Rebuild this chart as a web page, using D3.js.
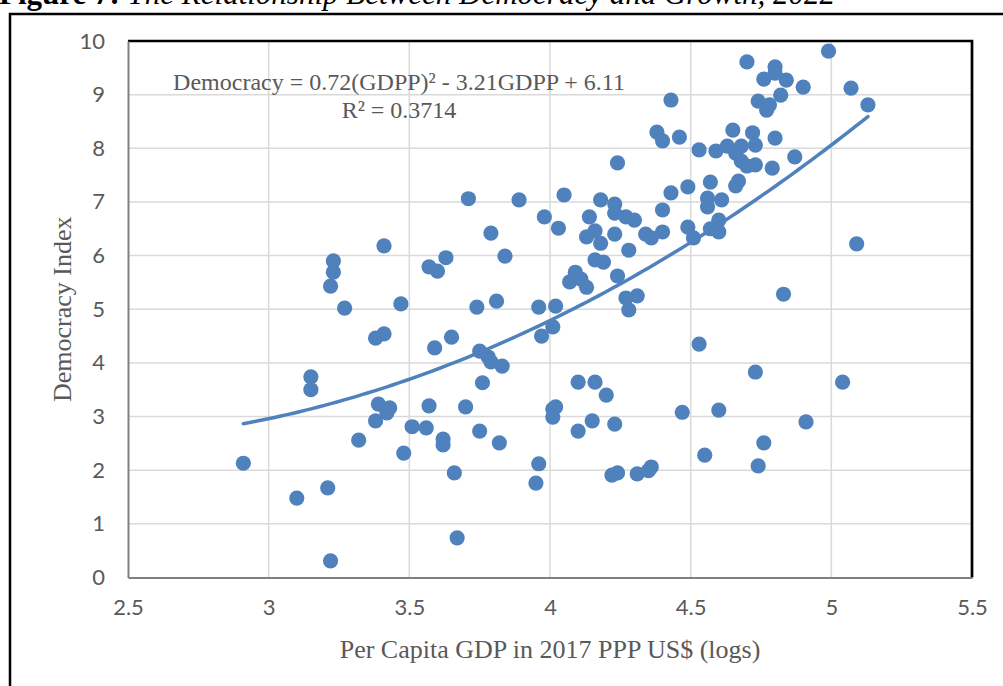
<!DOCTYPE html>
<html>
<head>
<meta charset="utf-8">
<script src="https://cdn.jsdelivr.net/npm/d3@7"></script>
<style>
  html, body { margin: 0; padding: 0; background: #ffffff; }
  svg { display: block; }
</style>
</head>
<body>
<svg id="chart" width="1003" height="686"></svg>
<script>
// ---------------- DATA ----------------
const titleBold = "Figure 7:";
const titleItalic = " The Relationship Between Democracy and Growth, 2022";
const xTitle = "Per Capita GDP in 2017 PPP US$ (logs)";
const yTitle = "Democracy Index";
const equationLine1 = "Democracy = 0.72(GDPP)\u00B2 - 3.21GDPP + 6.11";
const equationLine2 = "R\u00B2 = 0.3714";

const xTickValues = [2.5, 3, 3.5, 4, 4.5, 5, 5.5];
const xTickLabels = ["2.5", "3", "3.5", "4", "4.5", "5", "5.5"];
const yTickValues = [0, 1, 2, 3, 4, 5, 6, 7, 8, 9, 10];
const yTickLabels = ["0", "1", "2", "3", "4", "5", "6", "7", "8", "9", "10"];

// quadratic trend coefficients (a*x^2 + b*x + c), as printed on the chart
const trendCoefficients = [0.72, -3.21, 6.11];

// log per-capita GDP (x) and democracy index (y)
const gdp = [
  2.91, 3.10, 3.21, 3.22, 3.15, 3.15, 3.23, 3.23, 3.22, 3.27,
  3.41, 3.47, 3.38, 3.41, 3.39, 3.43, 3.38, 3.42, 3.32, 3.48,
  3.51, 3.57, 3.70, 3.56, 3.62, 3.62, 3.66, 3.67, 3.57, 3.60,
  3.63, 3.59, 3.65, 3.71, 3.89, 4.05, 4.24, 4.18, 4.23, 4.14,
  4.23, 4.27, 4.30, 4.43, 4.49, 4.40, 4.49, 4.40, 4.34, 4.36,
  3.98, 4.03, 3.79, 4.16, 4.13, 4.18, 4.23, 4.28, 3.84, 4.16,
  4.19, 4.09, 4.07, 4.11, 4.13, 4.24, 4.27, 4.31, 4.28, 3.74,
  3.81, 3.96, 4.02, 4.01, 3.97, 3.75, 3.78, 3.79, 3.83, 3.76,
  3.75, 3.82, 4.01, 4.01, 4.02, 3.96, 3.95, 4.10, 4.16, 4.20,
  4.15, 4.23, 4.10, 4.22, 4.24, 4.31, 4.35, 4.36, 4.47, 4.99,
  4.70, 4.80, 4.80, 4.76, 4.84, 4.90, 5.07, 4.82, 4.74, 4.78,
  4.77, 5.13, 4.43, 4.38, 4.40, 4.46, 4.65, 4.72, 4.80, 4.53,
  4.59, 4.63, 4.68, 4.73, 4.66, 4.68, 4.70, 4.73, 4.79, 4.87,
  4.57, 4.67, 4.66, 4.56, 4.61, 4.56, 4.51, 4.60, 4.57, 4.60,
  5.09, 4.83, 4.53, 4.73, 5.04, 4.60, 4.91, 4.76, 4.55, 4.74
];
const democracy = [
  2.13, 1.48, 1.67, 0.31, 3.74, 3.50, 5.90, 5.69, 5.43, 5.02,
  6.18, 5.10, 4.46, 4.54, 3.23, 3.16, 2.92, 3.07, 2.56, 2.32,
  2.81, 3.20, 3.18, 2.79, 2.58, 2.47, 1.95, 0.74, 5.79, 5.71,
  5.96, 4.28, 4.48, 7.06, 7.04, 7.13, 7.73, 7.04, 6.96, 6.72,
  6.79, 6.72, 6.66, 7.17, 7.28, 6.85, 6.53, 6.44, 6.40, 6.33,
  6.72, 6.51, 6.42, 6.46, 6.35, 6.23, 6.40, 6.10, 5.99, 5.92,
  5.88, 5.69, 5.51, 5.56, 5.41, 5.62, 5.21, 5.25, 4.99, 5.04,
  5.15, 5.04, 5.06, 4.67, 4.50, 4.22, 4.11, 4.02, 3.94, 3.63,
  2.73, 2.51, 3.14, 2.99, 3.18, 2.12, 1.76, 3.64, 3.64, 3.40,
  2.92, 2.86, 2.73, 1.91, 1.95, 1.93, 1.99, 2.06, 3.08, 9.81,
  9.61, 9.52, 9.40, 9.29, 9.27, 9.14, 9.12, 8.99, 8.88, 8.81,
  8.71, 8.81, 8.90, 8.30, 8.14, 8.21, 8.34, 8.29, 8.19, 7.97,
  7.95, 8.04, 8.04, 8.06, 7.91, 7.76, 7.67, 7.69, 7.63, 7.84,
  7.37, 7.39, 7.30, 7.07, 7.04, 6.91, 6.33, 6.66, 6.50, 6.44,
  6.22, 5.28, 4.35, 3.83, 3.64, 3.12, 2.90, 2.51, 2.28, 2.08
];

// ---------------- DRAWING ----------------
const svg = d3.select("#chart");
const W = 1003, H = 686;
const plot = { left: 128, right: 972, top: 41, bottom: 577.5 };
const blue = "#4f81bd";
const textGray = "#595959";

const x = d3.scaleLinear().domain([2.5, 5.5]).range([plot.left, plot.right]);
const y = d3.scaleLinear().domain([0, 10]).range([plot.bottom, plot.top]);

svg.append("rect").attr("width", W).attr("height", H).attr("fill", "#fff");

// Title (cut off at the top of the picture)
const title = svg.append("text")
  .attr("x", -1).attr("y", 4)
  .attr("font-family", "'Liberation Serif', 'Times New Roman', serif")
  .attr("font-size", 31).attr("fill", "#000");
title.append("tspan").attr("font-weight", "bold").text(titleBold);
title.append("tspan").attr("font-style", "italic").text(titleItalic);

// Outer frame
svg.append("path")
  .attr("d", `M10,${H} L10,14 L${W},14`)
  .attr("fill", "none").attr("stroke", "#000").attr("stroke-width", 2.5);

// Grid lines
svg.append("g")
  .selectAll("line")
  .data(xTickValues.slice(1, -1))
  .join("line")
  .attr("x1", d => x(d)).attr("x2", d => x(d))
  .attr("y1", plot.top).attr("y2", plot.bottom)
  .attr("stroke", "#d9d9d9").attr("stroke-width", 1.5);

svg.append("g")
  .selectAll("line")
  .data(yTickValues.slice(1, -1))
  .join("line")
  .attr("x1", plot.left).attr("x2", plot.right)
  .attr("y1", d => y(d)).attr("y2", d => y(d))
  .attr("stroke", "#d9d9d9").attr("stroke-width", 1.5);

// Plot area border: thick black top and right
svg.append("path")
  .attr("d", `M${plot.left},${plot.top} L${plot.right},${plot.top} L${plot.right},${plot.bottom}`)
  .attr("fill", "none").attr("stroke", "#000").attr("stroke-width", 2.7);

// Axes (using d3 axes, styled Excel-like)
const xAxis = d3.axisBottom(x).tickValues(xTickValues)
  .tickFormat((d, i) => xTickLabels[i]).tickSize(0).tickPadding(22);
const gx = svg.append("g").attr("transform", `translate(0,${plot.bottom})`).call(xAxis);
gx.select(".domain").attr("stroke", "#808080").attr("stroke-width", 2);
gx.selectAll("text")
  .attr("font-family", "Lato, 'Open Sans', sans-serif")
  .attr("font-size", 22).attr("fill", textGray);

const yAxis = d3.axisLeft(y).tickValues(yTickValues)
  .tickFormat((d, i) => yTickLabels[i]).tickSize(0).tickPadding(23);
const gy = svg.append("g").attr("transform", `translate(${plot.left},0)`).call(yAxis);
gy.select(".domain").attr("stroke", "#808080").attr("stroke-width", 2);
gy.selectAll("text")
  .attr("font-family", "Lato, 'Open Sans', sans-serif")
  .attr("font-size", 22).attr("fill", textGray);

// Axis titles
svg.append("text")
  .attr("x", (plot.left + plot.right) / 2).attr("y", 658)
  .attr("text-anchor", "middle")
  .attr("font-family", "'Liberation Serif', 'Times New Roman', serif")
  .attr("font-size", 26).attr("fill", textGray)
  .text(xTitle);

svg.append("text")
  .attr("transform", `translate(71,${(plot.top + plot.bottom) / 2 + 0}) rotate(-90)`)
  .attr("text-anchor", "middle")
  .attr("font-family", "'Liberation Serif', 'Times New Roman', serif")
  .attr("font-size", 26).attr("fill", textGray)
  .text(yTitle);

// Points
svg.append("g")
  .selectAll("circle")
  .data(gdp.map((g, i) => [g, democracy[i]]))
  .join("circle")
  .attr("cx", d => x(d[0])).attr("cy", d => y(d[1]))
  .attr("r", 7.6)
  .attr("fill", blue);

// Polynomial trend line
const [ta, tb, tc] = trendCoefficients;
const xmin = d3.min(gdp), xmax = d3.max(gdp);
const trendXs = d3.range(0, 101).map(i => xmin + (xmax - xmin) * i / 100);
const line = d3.line().x(d => x(d)).y(d => y(ta * d * d + tb * d + tc));
svg.append("path")
  .datum(trendXs)
  .attr("d", line)
  .attr("fill", "none").attr("stroke", blue)
  .attr("stroke-width", 3.5).attr("stroke-linecap", "round");

// Equation label
const eq = svg.append("text")
  .attr("text-anchor", "middle")
  .attr("font-family", "'Liberation Serif', 'Times New Roman', serif")
  .attr("font-size", 24).attr("fill", textGray);
eq.append("tspan").attr("x", 399).attr("y", 90).text(equationLine1);
eq.append("tspan").attr("x", 399).attr("y", 118).text(equationLine2);
</script>
</body>
</html>
